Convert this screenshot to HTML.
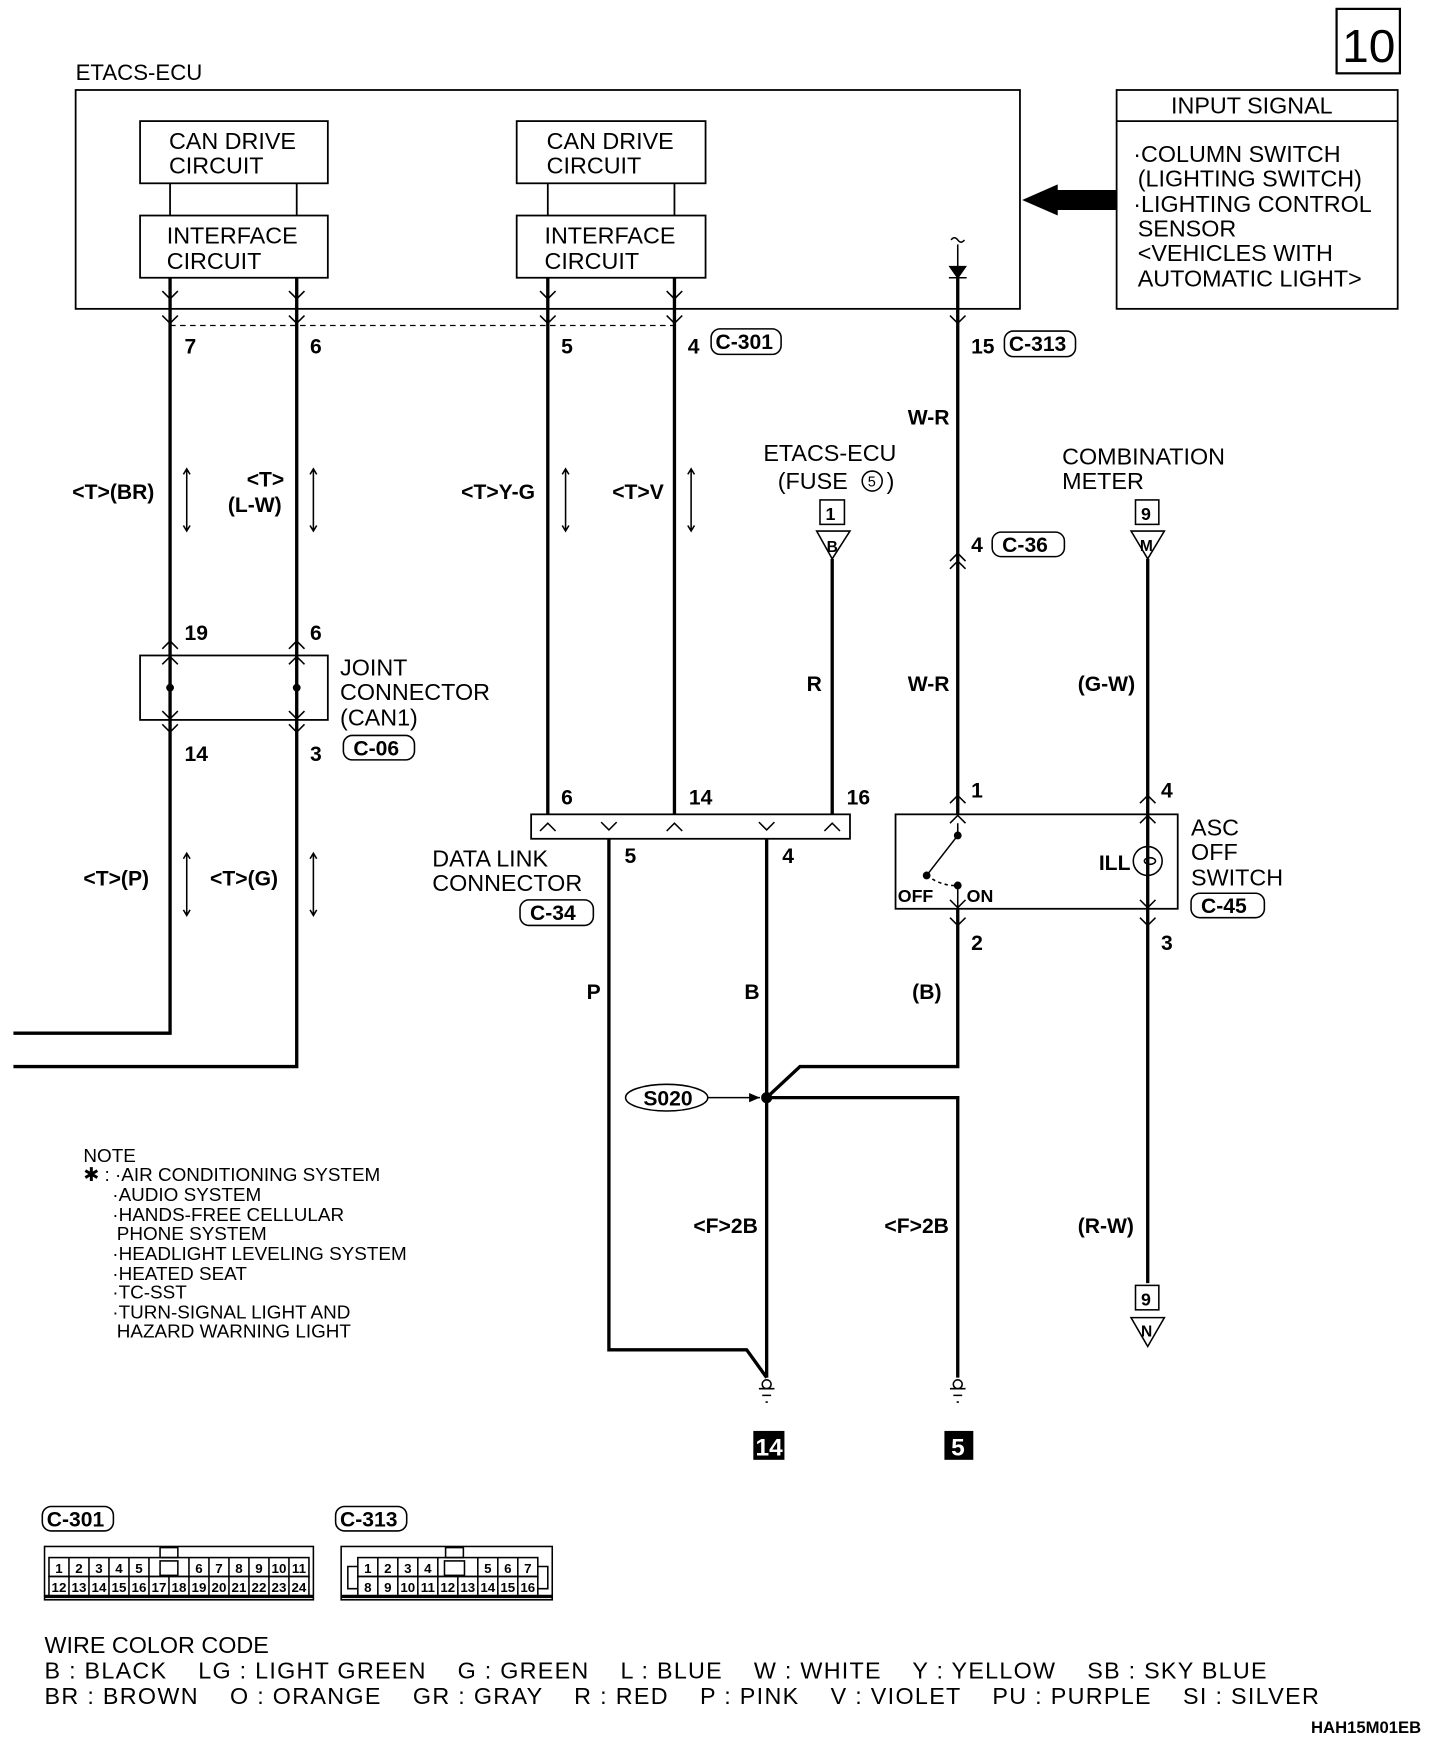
<!DOCTYPE html>
<html><head><meta charset="utf-8"><style>
html,body{margin:0;padding:0;background:#fff}
svg{display:block}
text{font-family:"Liberation Sans",sans-serif;fill:#000}
.b{font-weight:bold}
</style></head><body>
<svg width="1440" height="1742" viewBox="0 0 1296 1568" xmlns="http://www.w3.org/2000/svg">
<defs>
<marker id="ah" markerWidth="8" markerHeight="8" refX="7" refY="4" orient="auto"><path d="M0,1 L7,4 L0,7 Z" fill="#000"/></marker>
</defs>
<g stroke="#000" fill="none" stroke-width="1.6">
<rect x="1203" y="8" width="57" height="58" stroke-width="2"/>
<rect x="68" y="81" width="850" height="197"/>
<rect x="126" y="109" width="169" height="56"/>
<rect x="126" y="194" width="169" height="56"/>
<rect x="465" y="109" width="170" height="56"/>
<rect x="465" y="194" width="170" height="56"/>
<line x1="153" y1="165" x2="153" y2="194"/><line x1="267" y1="165" x2="267" y2="194"/>
<line x1="493" y1="165" x2="493" y2="194"/><line x1="607" y1="165" x2="607" y2="194"/>
<rect x="1005" y="81" width="253" height="197"/>
<line x1="1005" y1="109" x2="1258" y2="109"/>
<line x1="153" y1="293" x2="607" y2="293" stroke-dasharray="5,4" stroke-width="1.2"/>
<rect x="126" y="590" width="169" height="58"/>
<rect x="478" y="733" width="287" height="22"/>
<rect x="806" y="733" width="254" height="85"/>
</g>
<path d="M920,180 L952,166 L952,171 L1005,171 L1005,189 L952,189 L952,194 Z" fill="#000"/>
<g stroke="#000" fill="none" stroke-width="3">
<polyline points="153,250 153,930 12,930"/>
<polyline points="267,250 267,960 12,960"/>
<line x1="493" y1="250" x2="493" y2="733"/>
<line x1="607" y1="250" x2="607" y2="733"/>
<line x1="862" y1="250" x2="862" y2="733"/>
<line x1="749" y1="503" x2="749" y2="733"/>
<line x1="1033" y1="503" x2="1033" y2="1155"/>
<polyline points="548,755 548,1215 672,1215 690,1240"/>
<line x1="690" y1="755" x2="690" y2="1240"/>
<polyline points="862,818 862,960 720,960 690,988"/>
<polyline points="690,988 862,988 862,1240"/>
</g>
<g stroke="#000" fill="none" stroke-width="1.4">
<path d="M146,284 l7,7 l7,-7 M260,284 l7,7 l7,-7 M486,284 l7,7 l7,-7 M600,284 l7,7 l7,-7 M855,284 l7,7 l7,-7"/>
<path d="M146,262 l7,7 l7,-7 M260,262 l7,7 l7,-7 M486,262 l7,7 l7,-7 M600,262 l7,7 l7,-7"/>
<path d="M146,584 l7,-7 l7,7 M260,584 l7,-7 l7,7 M146,598 l7,-7 l7,7 M260,598 l7,-7 l7,7"/>
<path d="M146,652 l7,7 l7,-7 M260,652 l7,7 l7,-7 M146,640 l7,7 l7,-7 M260,640 l7,7 l7,-7"/>
<path d="M855,505 l7,-7 l7,7 M855,512 l7,-7 l7,7"/>
<path d="M486,748 l7,-7 l7,7 M600,748 l7,-7 l7,7 M742,748 l7,-7 l7,7 M541,740 l7,7 l7,-7 M683,740 l7,7 l7,-7"/>
<path d="M855,723 l7,-7 l7,7 M1026,723 l7,-7 l7,7 M855,741 l7,-7 l7,7 M1026,741 l7,-7 l7,7"/>
<path d="M855,810 l7,7 l7,-7 M1026,810 l7,7 l7,-7 M855,826 l7,7 l7,-7 M1026,826 l7,7 l7,-7"/>
<path d="M856,216 q3,-4 6,0 q3,4 6,0"/>
<line x1="862" y1="220" x2="862" y2="250"/>
<path d="M855,240 l7,10 l7,-10 Z" fill="#000"/>
<line x1="854" y1="250" x2="870" y2="250"/>
<g>
<path d="M168,422 v56 M165,427 l3,-5 l3,5 M165,473 l3,5 l3,-5"/>
<path d="M282,422 v56 M279,427 l3,-5 l3,5 M279,473 l3,5 l3,-5"/>
<path d="M509,422 v56 M506,427 l3,-5 l3,5 M506,473 l3,5 l3,-5"/>
<path d="M622,422 v56 M619,427 l3,-5 l3,5 M619,473 l3,5 l3,-5"/>
<path d="M168,768 v56 M165,773 l3,-5 l3,5 M165,819 l3,5 l3,-5"/>
<path d="M282,768 v56 M279,773 l3,-5 l3,5 M279,819 l3,5 l3,-5"/>
</g>
<rect x="738" y="450" width="22" height="22"/>
<path d="M735,478 L765,478 L749,503 Z"/>
<rect x="1022" y="450" width="21" height="22"/>
<path d="M1018,478 L1048,478 L1033,503 Z"/>
<rect x="1022" y="1157" width="21" height="22"/>
<path d="M1018,1186 L1048,1186 L1033,1212 Z"/>
<line x1="862" y1="741" x2="862" y2="752"/>
<line x1="862" y1="752" x2="834" y2="788"/>
<path d="M834,788 Q848,798 862,797" stroke-dasharray="3,3"/>
<line x1="862" y1="797" x2="862" y2="818"/>
<circle cx="1033" cy="775" r="13"/>
<ellipse cx="1035" cy="775" rx="5" ry="3"/>
<line x1="1033" y1="741" x2="1033" y2="810"/>
<ellipse cx="600" cy="988" rx="37" ry="12"/>
<line x1="637" y1="988" x2="684" y2="988" marker-end="url(#ah)"/>
<path d="M683,1250 h14 M686,1256 h8 M689,1262 h2 M855,1250 h14 M858,1256 h8 M861,1262 h2"/>
<circle cx="690" cy="1246" r="4"/><circle cx="862" cy="1246" r="4"/>
<rect x="640" y="296" width="63" height="23" rx="8"/>
<rect x="904" y="298" width="64" height="23" rx="8"/>
<rect x="893" y="479" width="65" height="22" rx="8"/>
<rect x="309" y="662" width="64" height="22" rx="8"/>
<rect x="468" y="810" width="66" height="23" rx="8"/>
<rect x="1072" y="804" width="66" height="22" rx="8"/>
<rect x="38" y="1356" width="64" height="22" rx="8"/>
<rect x="302" y="1356" width="64" height="22" rx="8"/>
<circle cx="785" cy="433" r="9"/>
<rect x="40" y="1392" width="242" height="48"/>
<line x1="40" y1="1437" x2="282" y2="1437" stroke-width="3"/>
<rect x="44" y="1402" width="234" height="17"/>
<rect x="44" y="1419" width="234" height="18"/>
<rect x="144" y="1393" width="16" height="9"/>
<rect x="144" y="1405" width="16" height="13"/>
<path d="M62,1402v35M80,1402v35M98,1402v35M116,1402v35M134,1402v35M170,1402v35M188,1402v35M206,1402v35M224,1402v35M242,1402v35M260,1402v35M152,1419v18"/>
<rect x="307" y="1392" width="190" height="48"/>
<line x1="307" y1="1437" x2="497" y2="1437" stroke-width="3"/>
<rect x="322" y="1402" width="162" height="17"/>
<rect x="322" y="1419" width="162" height="18"/>
<rect x="401" y="1393" width="16" height="9"/>
<rect x="400" y="1405" width="18" height="13"/>
<path d="M340,1402v35M358,1402v35M376,1402v35M394,1402v35M430,1402v35M448,1402v35M466,1402v35M412,1419v18"/>
<path d="M322,1410 h-9 v20 h9 M484,1410 h9 v20 h-9"/>
</g>
<g fill="#000">
<circle cx="153" cy="619" r="3.5"/><circle cx="267" cy="619" r="3.5"/>
<circle cx="862" cy="752" r="3.5"/><circle cx="834" cy="788" r="3.5"/><circle cx="862" cy="797" r="3.5"/>
<circle cx="690" cy="988" r="5"/>
<rect x="678" y="1288" width="28" height="26"/><rect x="850" y="1288" width="26" height="26"/>
</g>
<g font-size="12" class="b" text-anchor="middle">
<text x="53" y="1416">1</text><text x="71" y="1416">2</text><text x="89" y="1416">3</text><text x="107" y="1416">4</text><text x="125" y="1416">5</text>
<text x="179" y="1416">6</text><text x="197" y="1416">7</text><text x="215" y="1416">8</text><text x="233" y="1416">9</text><text x="251" y="1416">10</text><text x="269" y="1416">11</text>
<text x="53" y="1433">12</text><text x="71" y="1433">13</text><text x="89" y="1433">14</text><text x="107" y="1433">15</text><text x="125" y="1433">16</text><text x="143" y="1433">17</text><text x="161" y="1433">18</text><text x="179" y="1433">19</text><text x="197" y="1433">20</text><text x="215" y="1433">21</text><text x="233" y="1433">22</text><text x="251" y="1433">23</text><text x="269" y="1433">24</text>
<text x="331" y="1416">1</text><text x="349" y="1416">2</text><text x="367" y="1416">3</text><text x="385" y="1416">4</text>
<text x="439" y="1416">5</text><text x="457" y="1416">6</text><text x="475" y="1416">7</text>
<text x="331" y="1433">8</text><text x="349" y="1433">9</text><text x="367" y="1433">10</text><text x="385" y="1433">11</text><text x="403" y="1433">12</text><text x="421" y="1433">13</text><text x="439" y="1433">14</text><text x="457" y="1433">15</text><text x="475" y="1433">16</text>
</g>
<text x="1208" y="56" font-size="42" textLength="48" lengthAdjust="spacingAndGlyphs">10</text>
<text x="68" y="72" font-size="20">ETACS-ECU</text>
<g font-size="21">
<text x="152" y="134">CAN DRIVE</text><text x="152" y="156">CIRCUIT</text>
<text x="150" y="219">INTERFACE</text><text x="150" y="242">CIRCUIT</text>
<text x="492" y="134">CAN DRIVE</text><text x="492" y="156">CIRCUIT</text>
<text x="490" y="219">INTERFACE</text><text x="490" y="242">CIRCUIT</text>
<text x="1054" y="102">INPUT SIGNAL</text>
<text x="1020" y="146">·COLUMN SWITCH</text>
<text x="1024" y="168">(LIGHTING SWITCH)</text>
<text x="1020" y="191">·LIGHTING CONTROL</text>
<text x="1024" y="213">SENSOR</text>
<text x="1024" y="235">&lt;VEHICLES WITH</text>
<text x="1024" y="258">AUTOMATIC LIGHT&gt;</text>
<text x="687" y="415">ETACS-ECU</text><text x="700" y="440">(FUSE</text><text x="798" y="440">)</text>
<text x="956" y="418">COMBINATION</text><text x="956" y="440">METER</text>
<text x="306" y="608">JOINT</text><text x="306" y="630">CONNECTOR</text><text x="306" y="653">(CAN1)</text>
<text x="389" y="780">DATA LINK</text><text x="389" y="802">CONNECTOR</text>
<text x="1072" y="752">ASC</text><text x="1072" y="774">OFF</text><text x="1072" y="797">SWITCH</text>
<text x="40" y="1488">WIRE COLOR CODE</text>
<text x="40" y="1511" textLength="1100" lengthAdjust="spacing">B : BLACK &#160;&#160; LG : LIGHT GREEN &#160;&#160; G : GREEN &#160;&#160; L : BLUE &#160;&#160; W : WHITE &#160;&#160; Y : YELLOW &#160;&#160; SB : SKY BLUE</text>
<text x="40" y="1534" textLength="1147" lengthAdjust="spacing">BR : BROWN &#160;&#160; O : ORANGE &#160;&#160; GR : GRAY &#160;&#160; R : RED &#160;&#160; P : PINK &#160;&#160; V : VIOLET &#160;&#160; PU : PURPLE &#160;&#160; SI : SILVER</text>
</g>
<text x="781" y="438" font-size="13">5</text>
<g font-size="17">
<text x="75" y="1046">NOTE</text>
<text x="75" y="1063">✱ : ·AIR CONDITIONING SYSTEM</text>
<text x="101" y="1081">·AUDIO SYSTEM</text>
<text x="101" y="1099">·HANDS-FREE CELLULAR</text>
<text x="105" y="1116">PHONE SYSTEM</text>
<text x="101" y="1134">·HEADLIGHT LEVELING SYSTEM</text>
<text x="101" y="1152">·HEATED SEAT</text>
<text x="101" y="1169">·TC-SST</text>
<text x="101" y="1187">·TURN-SIGNAL LIGHT AND</text>
<text x="105" y="1204">HAZARD WARNING LIGHT</text>
</g>
<g font-size="19" class="b">
<text x="166" y="318">7</text><text x="279" y="318">6</text><text x="505" y="318">5</text><text x="619" y="318">4</text>
<text x="644" y="314">C-301</text>
<text x="874" y="318">15</text><text x="908" y="316">C-313</text>
<text x="817" y="382">W-R</text>
<text x="874" y="497">4</text><text x="902" y="497">C-36</text>
<text x="817" y="622">W-R</text><text x="726" y="622">R</text><text x="970" y="622">(G-W)</text>
<text x="65" y="449">&lt;T&gt;(BR)</text>
<text x="222" y="438">&lt;T&gt;</text><text x="205" y="461">(L-W)</text>
<text x="415" y="449">&lt;T&gt;Y-G</text><text x="551" y="449">&lt;T&gt;V</text>
<text x="166" y="576">19</text><text x="279" y="576">6</text>
<text x="166" y="685">14</text><text x="279" y="685">3</text><text x="318" y="680">C-06</text>
<text x="75" y="797">&lt;T&gt;(P)</text><text x="189" y="797">&lt;T&gt;(G)</text>
<text x="505" y="724">6</text><text x="620" y="724">14</text><text x="762" y="724">16</text>
<text x="562" y="777">5</text><text x="704" y="777">4</text>
<text x="477" y="828">C-34</text>
<text x="874" y="718">1</text><text x="1045" y="718">4</text>
<text x="874" y="855">2</text><text x="1045" y="855">3</text>
<text x="1081" y="822">C-45</text>
<text x="989" y="783">ILL</text>
<text x="808" y="812" font-size="16">OFF</text><text x="870" y="812" font-size="16">ON</text>
<text x="528" y="899">P</text><text x="670" y="899">B</text><text x="821" y="899">(B)</text>
<text x="579" y="995">S020</text>
<text x="624" y="1110">&lt;F&gt;2B</text><text x="796" y="1110">&lt;F&gt;2B</text><text x="970" y="1110">(R-W)</text>
<text x="743" y="468" font-size="16">1</text><text x="744" y="497" font-size="14">B</text>
<text x="1027" y="468" font-size="16">9</text><text x="1026" y="496" font-size="14">M</text>
<text x="1027" y="1175" font-size="16">9</text><text x="1027" y="1203" font-size="14">N</text>
<text x="680" y="1310" font-size="22" style="fill:#fff">14</text>
<text x="856" y="1310" font-size="22" style="fill:#fff">5</text>
<text x="42" y="1374">C-301</text><text x="306" y="1374">C-313</text>
<text x="1180" y="1560" font-size="15">HAH15M01EB</text>
</g>
</svg>
</body></html>
